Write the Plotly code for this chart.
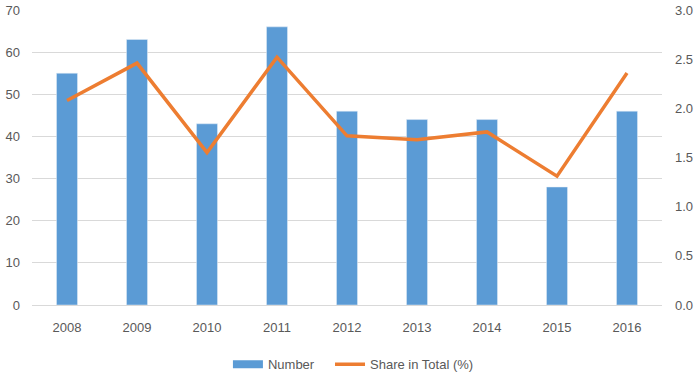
import plotly.graph_objects as go

years = ["2008", "2009", "2010", "2011", "2012", "2013", "2014", "2015", "2016"]
number = [55, 63, 43, 66, 46, 44, 44, 28, 46]
share = [2.08, 2.46, 1.55, 2.52, 1.72, 1.68, 1.76, 1.31, 2.36]

font_family = "Liberation Sans"
grey = "#595959"
fs = 13

fig = go.Figure()
fig.add_trace(go.Bar(x=years, y=number, name="Number", marker=dict(color="#5B9BD5"),
                     yaxis="y", showlegend=False))
# legend entry for bars drawn as wide swatch (trailing spaces widen the gap between entries)
fig.add_trace(go.Scatter(x=[None], y=[None], name="Number" + "\u00a0" * 3, mode="lines",
                         line=dict(color="#5B9BD5", width=8), yaxis="y"))
fig.add_trace(go.Scatter(x=years, y=share, name="Share in Total (%)", mode="lines",
                         line=dict(color="#ED7D31", width=3.5), yaxis="y2"))

fig.update_layout(
    width=700, height=377,
    margin=dict(l=32, r=38, t=9.5, b=72, autoexpand=False),
    paper_bgcolor="white", plot_bgcolor="white",
    font=dict(family=font_family, size=fs, color=grey),
    bargap=0.7,
    showlegend=True,
    legend=dict(orientation="h", x=0.311, xanchor="left", y=-0.15, yanchor="top",
                font=dict(size=fs, color=grey), itemwidth=30, tracegroupgap=0),
    xaxis=dict(type="category", showgrid=False, showline=True, linecolor="#D9D9D9",
               ticks="", automargin=False, ticklabelstandoff=10,
               tickfont=dict(size=fs, color=grey)),
    yaxis=dict(range=[0, 70], dtick=10, showgrid=True, gridcolor="#D9D9D9",
               zeroline=False, ticks="", automargin=False, ticklabelstandoff=11,
               tickfont=dict(size=fs, color=grey)),
    yaxis2=dict(range=[0, 3.0], dtick=0.5, tickformat=".1f", overlaying="y", side="right",
                showgrid=False, zeroline=False, ticks="", automargin=False,
                ticklabelstandoff=12, tickfont=dict(size=fs, color=grey)),
)

fig.write_html("out.html", config={"displayModeBar": False},
               post_script="document.body.style.margin='0px';")
